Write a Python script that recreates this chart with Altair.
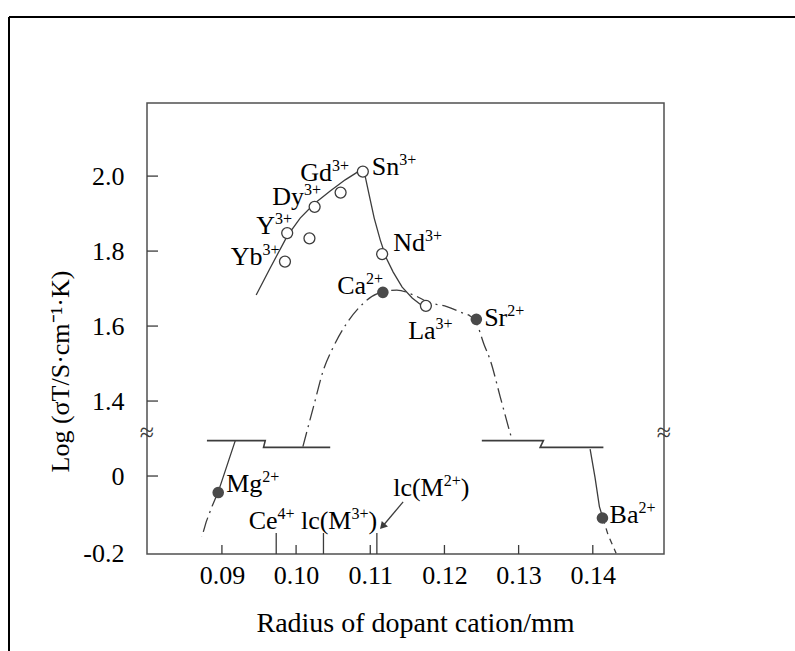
import altair as alt
import pandas as pd

FONT = "Liberation Serif"
INK = "#3c3c3c"

# ---------------------------------------------------------------------------
# Broken y axis: values below the break (log sigma around 0) are drawn at
# value + BREAK_SHIFT, so that 0 sits just under 1.4 on the drawn scale.
# ---------------------------------------------------------------------------
X_DOMAIN = [0.0799, 0.1496]
Y_DOMAIN = [0.992, 2.195]
BREAK_SHIFT = 1.2
PLOT_W, PLOT_H = 517, 451

x_ticks = [0.09, 0.10, 0.11, 0.12, 0.13, 0.14]
y_ticks = [0.993, 1.2, 1.4, 1.6, 1.8, 2.0]      # 0.993 -> "-0.2", 1.2 -> "0"
y_inner_ticks = [1.2, 1.4, 1.6, 1.8, 2.0]

# trivalent dopants (open circles)
tri_radius = [0.0985, 0.0988, 0.1018, 0.1025, 0.1060, 0.1090, 0.1116, 0.1175]
tri_log = [1.772, 1.848, 1.834, 1.918, 1.956, 2.012, 1.792, 1.654]

# divalent dopants (filled circles); Mg and Ba lie below the break
di_ion = ["Mg", "Ca", "Sr", "Ba"]
di_radius = [0.0895, 0.1117, 0.1243, 0.1413]
di_log = [-0.044, 1.690, 1.618, -0.112]

# trend curves, in drawn-axis units
tri_curve_x = [0.09462, 0.09651, 0.09880, 0.10055, 0.10244, 0.10460, 0.10662,
               0.10837, 0.10890, 0.10931, 0.10985, 0.11053, 0.11134, 0.11214,
               0.11309, 0.11430, 0.11565, 0.11686]
tri_curve_y = [1.683, 1.755, 1.840, 1.888, 1.926, 1.960, 1.990,
               2.012, 2.020, 2.000, 1.950, 1.888, 1.830, 1.782,
               1.744, 1.704, 1.675, 1.656]

di_curve_x = [0.10092, 0.10235, 0.10369, 0.10504, 0.10685, 0.10908, 0.11089,
              0.11358, 0.11582, 0.11807, 0.12032, 0.12256, 0.12346, 0.12427,
              0.12535, 0.12616, 0.12751, 0.12886, 0.12912]
di_curve_y = [1.2785, 1.385, 1.483, 1.545, 1.608, 1.661, 1.686,
              1.696, 1.683, 1.662, 1.652, 1.634, 1.627, 1.610,
              1.550, 1.510, 1.412, 1.314, 1.296]

mg_solid_x = [0.09179, 0.09085, 0.08991, 0.08946]
mg_solid_y = [1.2937, 1.2377, 1.1817, 1.1558]
mg_dash_x = [0.08946, 0.08869, 0.08788, 0.08730]
mg_dash_y = [1.1558, 1.1203, 1.0777, 1.0377]

ba_solid_x = [0.13964, 0.14031, 0.14089, 0.14135]
ba_solid_y = [1.2715, 1.1950, 1.1185, 1.0883]
ba_dash_x = [0.14135, 0.14206, 0.14314]
ba_dash_y = [1.0883, 1.0430, 0.9942]

# break steps on the curves
step_left_x = [0.08798, 0.09584, 0.09561, 0.10460]
step_right_x = [0.12504, 0.13334, 0.13290, 0.14143]
step_y = [1.2945, 1.2945, 1.2763, 1.2763]

# reference radii marked on the x axis
ref_radius = [0.09732, 0.10369, 0.11089]

# arrow pointing at lc(M2+)
arrow_x = [0.11443, 0.11175]
arrow_y = [1.131, 1.068]

# labels: base text, superscript, trailing text, left/baseline position
lab_base = ["Gd", "Sn", "Dy", "Y", "Yb", "Nd", "Ca", "La", "Sr", "Mg",
            "Ce", "lc(M", "lc(M", "Ba"]
lab_sup = ["3+", "3+", "3+", "3+", "3+", "3+", "2+", "3+", "2+", "2+",
           "4+", "3+", "2+", "2+"]
lab_tail = ["", "", "", "", "", "", "", "", "", "", "", ")", ")", ""]
lab_x = [0.10055, 0.11019, 0.09678, 0.09462, 0.09119, 0.11309, 0.10554,
         0.11511, 0.12535, 0.09058, 0.09361, 0.10065, 0.11309, 0.14226]
lab_y = [1.987, 2.003, 1.923, 1.846, 1.763, 1.800, 1.686,
         1.566, 1.599, 1.158, 1.058, 1.058, 1.147, 1.076]

BASE_SIZE, SUP_SIZE = 26, 16

# Times-compatible advance widths (per 1000 em) for laying out superscripts
ADV = {"G": 722, "d": 500, "S": 556, "n": 500, "D": 722, "y": 500, "Y": 722,
       "b": 500, "N": 722, "C": 667, "a": 444, "L": 611, "M": 889, "g": 500,
       "B": 667, "r": 333, "e": 444, "l": 278, "c": 444, "(": 333, ")": 333,
       "2": 500, "3": 500, "4": 500, "+": 564}


def text_px(s, size):
    return sum(ADV.get(ch, 500) for ch in s) * size / 1000.0


X_PER_PX = (X_DOMAIN[1] - X_DOMAIN[0]) / PLOT_W


def drawn(v):
    return v + BREAK_SHIFT if v < 1.0 else v


X_SCALE = alt.Scale(domain=X_DOMAIN, nice=False, zero=False)
Y_SCALE = alt.Scale(domain=Y_DOMAIN, nice=False, zero=False)

X_AXIS = alt.Axis(
    values=x_ticks, format=".2f", ticks=False, tickSize=0, domain=False,
    grid=False, labelFont=FONT, labelFontSize=26, labelColor="black",
    labelPadding=8, labelFlush=False, labelOverlap=False,
    title="Radius of dopant cation/mm", titleFont=FONT, titleFontSize=28,
    titleFontWeight="normal", titleColor="black", titleX=268, titleY=77,
    titleBaseline="alphabetic", titleAlign="center",
)
Y_AXIS = alt.Axis(
    values=y_ticks,
    labelExpr="datum.value < 1.1 ? '-0.2' : (datum.value < 1.3 ? '0' : format(datum.value, '.1f'))",
    ticks=False, tickSize=0, domain=False, grid=False, labelFont=FONT,
    labelFontSize=26, labelColor="black", labelPadding=23, labelFlush=False,
    labelOverlap=False,
    title="Log (σT/S·cm⁻¹·K)", titleFont=FONT, titleFontSize=26,
    titleFontWeight="normal", titleColor="black", titleAngle=270,
    titleX=-87, titleY=268, titleBaseline="middle", titleAlign="center",
)


def X(field="x"):
    return alt.X(f"{field}:Q", scale=X_SCALE, axis=X_AXIS)


def Y(field="y"):
    return alt.Y(f"{field}:Q", scale=Y_SCALE, axis=Y_AXIS)


def path(xs, ys, dash=None, width=1.3, interpolate="linear"):
    df = pd.DataFrame({"x": xs, "y": ys, "i": list(range(len(xs)))})
    kw = dict(color=INK, strokeWidth=width, interpolate=interpolate)
    if dash:
        kw["strokeDash"] = dash
    return alt.Chart(df).mark_line(**kw).encode(x=X(), y=Y(), order="i:Q")


DASHDOT = [15, 5, 2, 5]

layers = []

# inward ticks
layers.append(
    alt.Chart(pd.DataFrame({"y": y_inner_ticks})).mark_rule(color=INK, strokeWidth=1.3)
    .encode(y=Y(), x=alt.value(0), x2=alt.value(11))
)
layers.append(
    alt.Chart(pd.DataFrame({"x": x_ticks})).mark_rule(color=INK, strokeWidth=1.3)
    .encode(x=X(), y=alt.value(PLOT_H), y2=alt.value(PLOT_H - 9))
)
# reference radii (Ce4+, lc(M3+), lc(M2+))
layers.append(
    alt.Chart(pd.DataFrame({"x": ref_radius})).mark_rule(color=INK, strokeWidth=1.3)
    .encode(x=X(), y=alt.value(PLOT_H), y2=alt.value(PLOT_H - 21))
)

# curves
layers.append(path(tri_curve_x, tri_curve_y))
layers.append(path(di_curve_x, di_curve_y, dash=DASHDOT, interpolate="monotone"))
layers.append(path(mg_solid_x, mg_solid_y))
layers.append(path(mg_dash_x, mg_dash_y, dash=DASHDOT))
layers.append(path(ba_solid_x, ba_solid_y))
layers.append(path(ba_dash_x, ba_dash_y, dash=[6, 5]))
layers.append(path(step_left_x, step_y, width=1.6))
layers.append(path(step_right_x, step_y, width=1.6))

# arrow
layers.append(path(arrow_x, arrow_y, width=1.3))
layers.append(
    alt.Chart(pd.DataFrame({"x": [arrow_x[1]], "y": [arrow_y[1]]}))
    .mark_point(shape="triangle", filled=True, color=INK, size=70, angle=222, opacity=1)
    .encode(x=X(), y=Y())
)

# markers
layers.append(
    alt.Chart(pd.DataFrame({"x": tri_radius, "y": tri_log}))
    .mark_point(shape="circle", filled=True, fill="white", stroke=INK,
                strokeWidth=1.3, size=120, opacity=1)
    .encode(x=X(), y=Y())
)
layers.append(
    alt.Chart(pd.DataFrame({"x": di_radius, "y": [drawn(v) for v in di_log],
                            "ion": di_ion}))
    .mark_point(shape="circle", filled=True, color="#4a4a4a", size=135, opacity=1)
    .encode(x=X(), y=Y())
)

# labels with superscripts
base_df = pd.DataFrame({"x": lab_x, "y": lab_y, "t": lab_base})
sup_x = [x + text_px(b, BASE_SIZE) * X_PER_PX for x, b in zip(lab_x, lab_base)]
sup_df = pd.DataFrame({"x": sup_x, "y": lab_y, "t": lab_sup})
tail_x = [sx + text_px(s, SUP_SIZE) * X_PER_PX for sx, s in zip(sup_x, lab_sup)]
tail_df = pd.DataFrame({"x": tail_x, "y": lab_y, "t": lab_tail})

layers.append(
    alt.Chart(base_df).mark_text(align="left", baseline="alphabetic", font=FONT,
                                 fontSize=BASE_SIZE, color="black")
    .encode(x=X(), y=Y(), text="t:N")
)
layers.append(
    alt.Chart(sup_df).mark_text(align="left", baseline="alphabetic", font=FONT,
                                fontSize=SUP_SIZE, color="black", dy=-10)
    .encode(x=X(), y=Y(), text="t:N")
)
layers.append(
    alt.Chart(tail_df).mark_text(align="left", baseline="alphabetic", font=FONT,
                                 fontSize=BASE_SIZE, color="black")
    .encode(x=X(), y=Y(), text="t:N")
)

# axis break marks on both sides
layers.append(
    alt.Chart(pd.DataFrame({"x": X_DOMAIN, "y": [1.315, 1.315], "t": ["≈", "≈"]}))
    .mark_text(align="center", baseline="middle", font=FONT, fontSize=26, color=INK)
    .encode(x=X(), y=Y(), text="t:N")
)

# outer page frame
one = pd.DataFrame({"k": [0]})
layers.append(
    alt.Chart(one).mark_rule(color="black", strokeWidth=2)
    .encode(x=alt.value(-138), y=alt.value(-86), y2=alt.value(PLOT_H + 110))
)
layers.append(
    alt.Chart(one).mark_rule(color="black", strokeWidth=2)
    .encode(x=alt.value(-138), x2=alt.value(PLOT_W + 140), y=alt.value(-86))
)

chart = (
    alt.layer(*layers)
    .properties(
        width=PLOT_W, height=PLOT_H,
        autosize=alt.AutoSizeParams(type="none"),
        padding={"left": 147, "top": 103, "right": 131, "bottom": 97},
        background="white",
    )
    .configure_view(stroke="#505050", strokeWidth=1.5)
)

chart.save("out.html", embed_options={"renderer": "svg", "actions": False})
